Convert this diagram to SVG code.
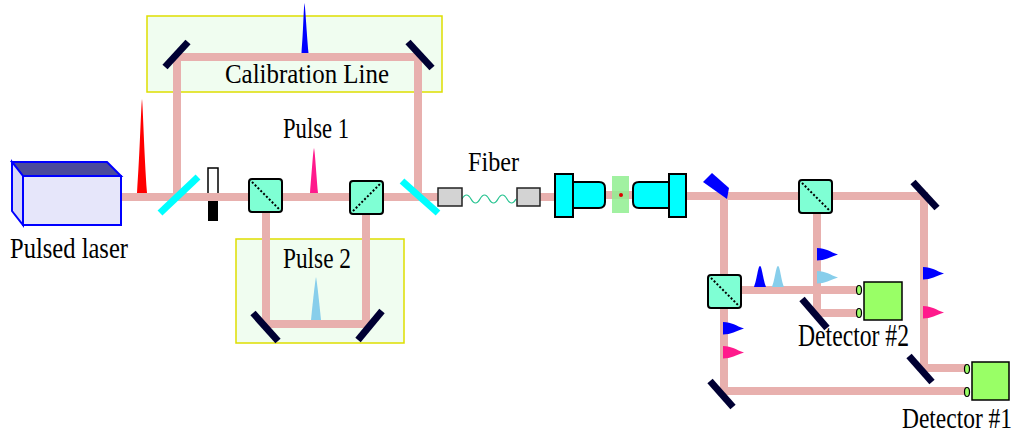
<svg xmlns="http://www.w3.org/2000/svg" width="1019" height="437" viewBox="0 0 1019 437">
  <style>
    .beam { fill: none; stroke: #e8b0ae; stroke-width: 8; stroke-linejoin: miter; }
    .mirror { stroke: #000033; stroke-width: 7; stroke-linecap: butt; }
    .splitter { stroke: #00ffff; stroke-width: 7; stroke-linecap: butt; }
    .cube { fill: #7fffd4; stroke: #000; stroke-width: 2; }
    .cube-diag { stroke: #000; stroke-width: 2; stroke-dasharray: 2 2; }
    .zone { fill: #f0fdf0; stroke: #dede00; stroke-width: 1.5; }
    .label { font-family: "Liberation Serif", "Times New Roman", Times, serif; fill: #000; }
    .optic { fill: #00ffff; stroke: #000; stroke-width: 2; }
    .coupler { fill: #d3d3d3; stroke: #222; stroke-width: 1.5; }
    .det { fill: #99ff66; stroke: #000; stroke-width: 1.5; }
    .port { fill: #99ff66; stroke: #000; stroke-width: 1.2; }
    .blue { fill: #0000ff; }
    .sky { fill: #87ceeb; }
    .pink { fill: #ff1a8c; }
    .red { fill: #ff0000; }
  </style>
  <defs>
    <!-- beam-splitter cube, diagonal top-left to bottom-right -->
    <g id="cubeA">
      <rect class="cube" x="0" y="0" width="33" height="33" rx="3"/>
      <line class="cube-diag" x1="3" y1="3" x2="30" y2="30"/>
    </g>
    <!-- beam-splitter cube, diagonal bottom-left to top-right -->
    <g id="cubeB">
      <rect class="cube" x="0" y="0" width="33" height="33" rx="3"/>
      <line class="cube-diag" x1="3" y1="30" x2="30" y2="3"/>
    </g>
    <!-- sideways pulse marker -->
    <path id="sidePulse" d="M0,0 C9,0 13,4 21,6.5 C13,9 8,12.5 0,12.5 Z"/>
  </defs>

  <!-- shaded zones -->
  <g id="calibration-zone">
    <rect class="zone" x="147" y="16" width="295" height="76"/>
  </g>
  <g id="pulse2-zone">
    <rect class="zone" x="236" y="239" width="168" height="104"/>
  </g>

  <!-- shutter (beam passes through its gap) -->
  <g id="shutter">
    <rect x="208" y="168" width="10" height="26" fill="#fff" stroke="#000" stroke-width="1.5"/>
    <rect x="208" y="200" width="10" height="21" fill="#000"/>
  </g>

  <!-- beam paths -->
  <g id="connectors">
    <path class="beam" d="M121,197 H438"/>
    <path class="beam" d="M177,197 V57 H418 V197"/>
    <path class="beam" d="M266,197 V324 H366 V197"/>
    <path class="beam" d="M540,197 H556"/>
    <path class="beam" d="M604,195 H634"/>
    <path class="beam" d="M686,196 H924 V368 H967"/>
    <path class="beam" d="M724,196 V391 H967"/>
    <path class="beam" d="M817,196 V313 H857"/>
    <path class="beam" d="M741,290 H857"/>
    <path d="M462,199 q4.5,-8 9,0 t9,0 t9,0 t9,0 t9,0 t9,0" fill="none" stroke="#22c28e" stroke-width="1.2"/>
  </g>

  <!-- pulsed laser -->
  <g id="laser">
    <polygon points="12,162 107,162 121,176 23,176" fill="#4b4b9b" stroke="#0000ff" stroke-width="2"/>
    <polygon points="12,162 23,176 23,225 12,211" fill="#d8d8f8" stroke="#0000ff" stroke-width="2"/>
    <rect x="23" y="176" width="98" height="49" fill="#e6e6fa" stroke="#0000ff" stroke-width="2"/>
    <text class="label" transform="translate(10,258) scale(1,1.18)" font-size="24.6" textLength="118" lengthAdjust="spacingAndGlyphs">Pulsed laser</text>
  </g>

  <!-- laser pulse -->
  <g id="pulse-red">
    <path class="red" d="M137,193 C140,150 141,108 142,99 C143,108 144,150 147,193 Z"/>
  </g>

  <g id="splitter-in">
    <line class="splitter" x1="160" y1="213" x2="198" y2="177"/>
  </g>

  <g id="mirror-cal-left">
    <line class="mirror" x1="165" y1="67" x2="188" y2="42"/>
  </g>
  <g id="mirror-cal-right">
    <line class="mirror" x1="408" y1="42" x2="432" y2="68"/>
  </g>
  <g id="pulse-cal">
    <path class="blue" d="M301.5,53 C303.5,30 303.5,10 304.5,3 C305.5,10 306.5,30 308.5,53 Z"/>
  </g>
  <g id="calibration-label">
    <text class="label" transform="translate(225,83) scale(1,1.11)" font-size="24.9" textLength="164" lengthAdjust="spacingAndGlyphs">Calibration Line</text>
  </g>

  <g id="bs1"><use href="#cubeA" x="249" y="179"/></g>
  <g id="bs2"><use href="#cubeB" x="350" y="181"/></g>

  <g id="pulse1">
    <path class="pink" d="M310,193 C312,170 313,152 314,148 C315,152 316,170 318,193 Z"/>
    <text class="label" transform="translate(283,138) scale(1,1.26)" font-size="22.6" textLength="66" lengthAdjust="spacingAndGlyphs">Pulse 1</text>
  </g>

  <g id="mirror-delay-left">
    <line class="mirror" x1="253" y1="313" x2="278" y2="341"/>
  </g>
  <g id="mirror-delay-right">
    <line class="mirror" x1="358" y1="340" x2="382" y2="311"/>
  </g>
  <g id="pulse2">
    <path class="sky" d="M311,320 C313,300 315,282 316,277 C317,282 319,300 321,320 Z"/>
    <text class="label" transform="translate(283,268) scale(1,1.24)" font-size="23.3" textLength="68" lengthAdjust="spacingAndGlyphs">Pulse 2</text>
  </g>

  <g id="splitter-out">
    <line class="splitter" x1="402" y1="181" x2="438" y2="213"/>
  </g>

  <!-- fiber -->
  <g id="fiber">
    <rect class="coupler" x="438" y="188" width="24" height="18"/>
    <rect class="coupler" x="517" y="188" width="23" height="18"/>
    <text class="label" transform="translate(468,171) scale(1,1.12)" font-size="24.2" textLength="51" lengthAdjust="spacingAndGlyphs">Fiber</text>
  </g>

  <!-- microscope objectives and sample -->
  <g id="objective-1">
    <path class="optic" d="M573,182 H599 Q605,182 605,188 V202 Q605,208 599,208 H573 Z"/>
    <rect class="optic" x="555" y="174" width="18" height="43"/>
  </g>
  <g id="sample">
    <rect x="612" y="176" width="17" height="37" fill="#90ee90" fill-opacity="0.85"/>
    <circle cx="621" cy="195" r="2" fill="#dd0000"/>
  </g>
  <g id="objective-2">
    <path class="optic" d="M669,182 H639 Q633,182 633,188 V202 Q633,208 639,208 H669 Z"/>
    <rect class="optic" x="669" y="174" width="17" height="43"/>
  </g>

  <g id="dichroic">
    <polygon points="703,182 712,173 729,188 727,199" fill="#0000ff"/>
  </g>

  <g id="bs3"><use href="#cubeA" x="799" y="180"/></g>
  <g id="mirror-top-right">
    <line class="mirror" x1="913" y1="182" x2="937" y2="208"/>
  </g>

  <g id="bs4"><use href="#cubeA" x="708" y="275"/></g>

  <g id="mirror-d2">
    <line class="mirror" x1="802" y1="299" x2="827" y2="328"/>
  </g>
  <g id="mirror-bottom-left">
    <line class="mirror" x1="710" y1="381" x2="733" y2="407"/>
  </g>
  <g id="mirror-d1">
    <line class="mirror" x1="909" y1="356" x2="932" y2="382"/>
  </g>

  <!-- pulse markers along the detection arms -->
  <g id="pulses-bs4">
    <path class="blue" d="M754,287 C757,280 758,266 760,266 C762,266 763,280 766,287 Z"/>
    <path class="sky" d="M772,287 C775,280 776,266 778,266 C780,266 781,280 784,287 Z"/>
  </g>
  <g id="pulses-arm2">
    <use href="#sidePulse" class="blue" x="817" y="248"/>
    <use href="#sidePulse" class="sky" x="817" y="271"/>
  </g>
  <g id="pulses-arm-left">
    <use href="#sidePulse" class="blue" x="723" y="322"/>
    <use href="#sidePulse" class="pink" x="723" y="346"/>
  </g>
  <g id="pulses-arm-right">
    <use href="#sidePulse" class="blue" x="923" y="267"/>
    <use href="#sidePulse" class="pink" x="923" y="306"/>
  </g>

  <!-- detectors -->
  <g id="detector-2">
    <ellipse class="port" cx="859" cy="290" rx="2.5" ry="4.5"/>
    <ellipse class="port" cx="859" cy="313" rx="2.5" ry="4.5"/>
    <rect class="det" x="864" y="282" width="38" height="38"/>
    <text class="label" transform="translate(798,346) scale(1,1.3)" font-size="23.6" textLength="111" lengthAdjust="spacingAndGlyphs">Detector #2</text>
  </g>
  <g id="detector-1">
    <ellipse class="port" cx="967" cy="369" rx="2.5" ry="4.5"/>
    <ellipse class="port" cx="967" cy="392" rx="2.5" ry="4.5"/>
    <rect class="det" x="972" y="362" width="37" height="38"/>
    <text class="label" transform="translate(902,428) scale(1,1.3)" font-size="23.4" textLength="110" lengthAdjust="spacingAndGlyphs">Detector #1</text>
  </g>
</svg>
